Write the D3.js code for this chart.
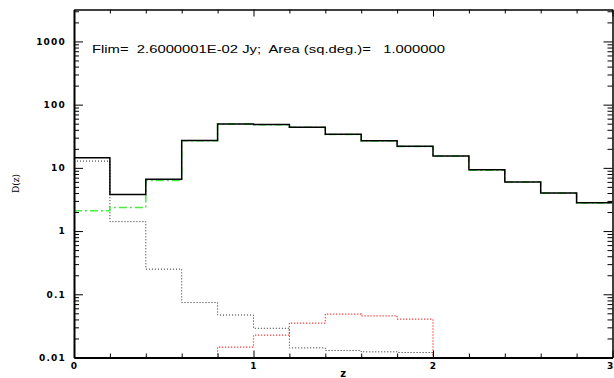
<!DOCTYPE html>
<html>
<head>
<meta charset="utf-8">
<script src="https://cdn.jsdelivr.net/npm/d3@7"></script>
<style>
  body { margin: 0; background: #fff; }
  svg { display: block; }
  .lbl text { font-family: "DejaVu Sans", sans-serif; font-weight: bold; font-size: 9px; letter-spacing: 1.2px; fill: #000; }
</style>
</head>
<body>
<div id="vis"></div>
<script>
// bin edges in redshift (0.2 wide bins)
const binEdges = [0, 0.2, 0.4, 0.6, 0.8, 1.0, 1.2, 1.4, 1.6, 1.8, 2.0, 2.2, 2.4, 2.6, 2.8, 3.0];

// total D(z) (solid black)
const totalVals = [14.4, 3.8, 6.6, 27, 49.5, 48.5, 44, 34, 26.8, 22, 15.4, 9.3, 6.0, 4.0, 2.8];
// green dash-dot component
const greenVals = [2.1, 2.35, 6.3, 26.8, 49.2, 48.2, 43.7, 33.8, 26.6, 21.8, 15.3, 9.2, 5.95, 3.95, 2.77];
// black dotted component
const dotVals = [12.8, 1.41, 0.25, 0.074, 0.047, 0.029, 0.0142, 0.0129, 0.0123, 0.012, null, null, null, null, null];
// red dotted component
const redVals = [null, null, null, null, 0.0146, 0.0226, 0.035, 0.0485, 0.0456, 0.0404, null, null, null, null, null];

const xMajor = [0, 1, 2, 3];
const yMajor = [0.01, 0.1, 1, 10, 100, 1000];
const yLabels = ['0.01', '0.1', '1', '10', '100', '1000'];

const width = 614, height = 378;
const mLeft = 74, mRight = 612.5, mTop = 9.5, mBottom = 357.5;

const svg = d3.select('#vis').append('svg')
  .attr('width', width).attr('height', height);

const x = d3.scaleLinear().domain([0, 3]).range([mLeft, mRight]);
const y = d3.scaleLog().domain([0.01, 3200]).range([mBottom, mTop]);

// minor tick positions
const xMinor = d3.range(0, 3.001, 0.2).filter(v => Math.abs(v - Math.round(v)) > 1e-6);
let yMinor = [];
[0.01, 0.1, 1, 10, 100, 1000].forEach(d => {
  for (let k = 2; k <= 9; k++) if (d * k <= 3200) yMinor.push(d * k);
});

svg.append('clipPath').attr('id', 'clip')
  .append('rect').attr('x', mLeft).attr('y', mTop)
  .attr('width', mRight - mLeft).attr('height', mBottom - mTop);

// step path builder
function stepPoints(vals) {
  let runs = [], cur = null;
  vals.forEach((v, i) => {
    if (v == null) { if (cur) { runs.push(cur); cur = null; } return; }
    if (!cur) cur = { start: i, pts: [] };
    cur.end = i;
    cur.pts.push([binEdges[i], v], [binEdges[i + 1], v]);
  });
  if (cur) runs.push(cur);
  return runs.map(r => {
    let p = r.pts.slice();
    if (r.start > 0) p.unshift([binEdges[r.start], 0.01]);
    if (r.end < vals.length - 1) p.push([binEdges[r.end + 1], 0.01]);
    return p;
  });
}
const line = d3.line().x(d => x(d[0])).y(d => y(Math.max(d[1], 0.0099)));

const plot = svg.append('g').attr('clip-path', 'url(#clip)');

function drawSeries(vals, stroke, sw, dash) {
  stepPoints(vals).forEach(p => {
    plot.append('path')
      .attr('d', line(p))
      .attr('fill', 'none')
      .attr('stroke', stroke)
      .attr('stroke-width', sw)
      .attr('stroke-dasharray', dash);
  });
}
drawSeries(dotVals, '#222', 1, '1,2');
drawSeries(redVals, '#ff0000', 1.2, '1,2');
drawSeries(greenVals, '#44ee44', 1.5, '8,3,2,3');
drawSeries(totalVals, '#000', 1.5, null);

// axes
function styleAxis(g, sw) {
  g.select('.domain').attr('stroke', '#000').attr('stroke-width', sw);
  g.selectAll('.tick line').attr('stroke', '#000').attr('stroke-width', 1);
}

// left
svg.append('g').attr('class', 'lbl').attr('transform', `translate(${mLeft},0)`)
  .call(d3.axisLeft(y).tickValues(yMajor).tickFormat((d, i) => yLabels[i])
    .tickSizeInner(-9).tickSizeOuter(0).tickPadding(8))
  .call(g => styleAxis(g, 2));
svg.append('g').attr('transform', `translate(${mLeft},0)`)
  .call(d3.axisLeft(y).tickValues(yMinor).tickFormat('').tickSizeInner(-5).tickSizeOuter(0))
  .call(g => { g.select('.domain').remove(); styleAxis(g, 1); });

// right
svg.append('g').attr('transform', `translate(${mRight},0)`)
  .call(d3.axisRight(y).tickValues(yMajor).tickFormat('').tickSizeInner(-9).tickSizeOuter(0))
  .call(g => styleAxis(g, 1.5));
svg.append('g').attr('transform', `translate(${mRight},0)`)
  .call(d3.axisRight(y).tickValues(yMinor).tickFormat('').tickSizeInner(-5).tickSizeOuter(0))
  .call(g => { g.select('.domain').remove(); styleAxis(g, 1); });

// bottom
svg.append('g').attr('class', 'lbl').attr('transform', `translate(0,${mBottom})`)
  .call(d3.axisBottom(x).tickValues(xMajor).tickFormat(d3.format('d'))
    .tickSizeInner(-7).tickSizeOuter(0).tickPadding(5))
  .call(g => styleAxis(g, 2))
  // last label sits at the page edge; keep it inside
  .call(g => g.selectAll('.tick text').filter(d => d === 3)
    .attr('text-anchor', 'end').attr('x', 614 - mRight));
svg.append('g').attr('transform', `translate(0,${mBottom})`)
  .call(d3.axisBottom(x).tickValues(xMinor).tickFormat('').tickSizeInner(-4).tickSizeOuter(0))
  .call(g => { g.select('.domain').remove(); styleAxis(g, 1); });

// top
svg.append('g').attr('transform', `translate(0,${mTop})`)
  .call(d3.axisTop(x).tickValues(xMajor).tickFormat('').tickSizeInner(-7).tickSizeOuter(0))
  .call(g => styleAxis(g, 1.5));
svg.append('g').attr('transform', `translate(0,${mTop})`)
  .call(d3.axisTop(x).tickValues(xMinor).tickFormat('').tickSizeInner(-4).tickSizeOuter(0))
  .call(g => { g.select('.domain').remove(); styleAxis(g, 1); });

// axis titles
svg.append('text')
  .attr('x', (mLeft + mRight) / 2).attr('y', 377)
  .attr('text-anchor', 'middle')
  .attr('fill', '#000')
  .style('font-family', '"DejaVu Sans", sans-serif').style('font-weight', 'bold').style('font-size', '10px')
  .text('z');
svg.append('text')
  .attr('transform', `translate(19,${(mTop + mBottom) / 2}) rotate(-90)`)
  .attr('text-anchor', 'middle')
  .attr('fill', '#000')
  .style('font-family', '"DejaVu Serif", serif').style('font-size', '9px')
  .text('D(z)');

// annotation
svg.append('text')
  .attr('x', 92).attr('y', 52.5)
  .attr('fill', '#000')
  .attr('textLength', 353)
  .attr('lengthAdjust', 'spacingAndGlyphs')
  .style('font-family', '"Liberation Sans", Arial, sans-serif').style('font-size', '10.5px')
  .attr('xml:space', 'preserve')
  .style('white-space', 'pre')
  .text('Flim=  2.6000001E-02 Jy;  Area (sq.deg.)=   1.000000');
</script>
</body>
</html>
